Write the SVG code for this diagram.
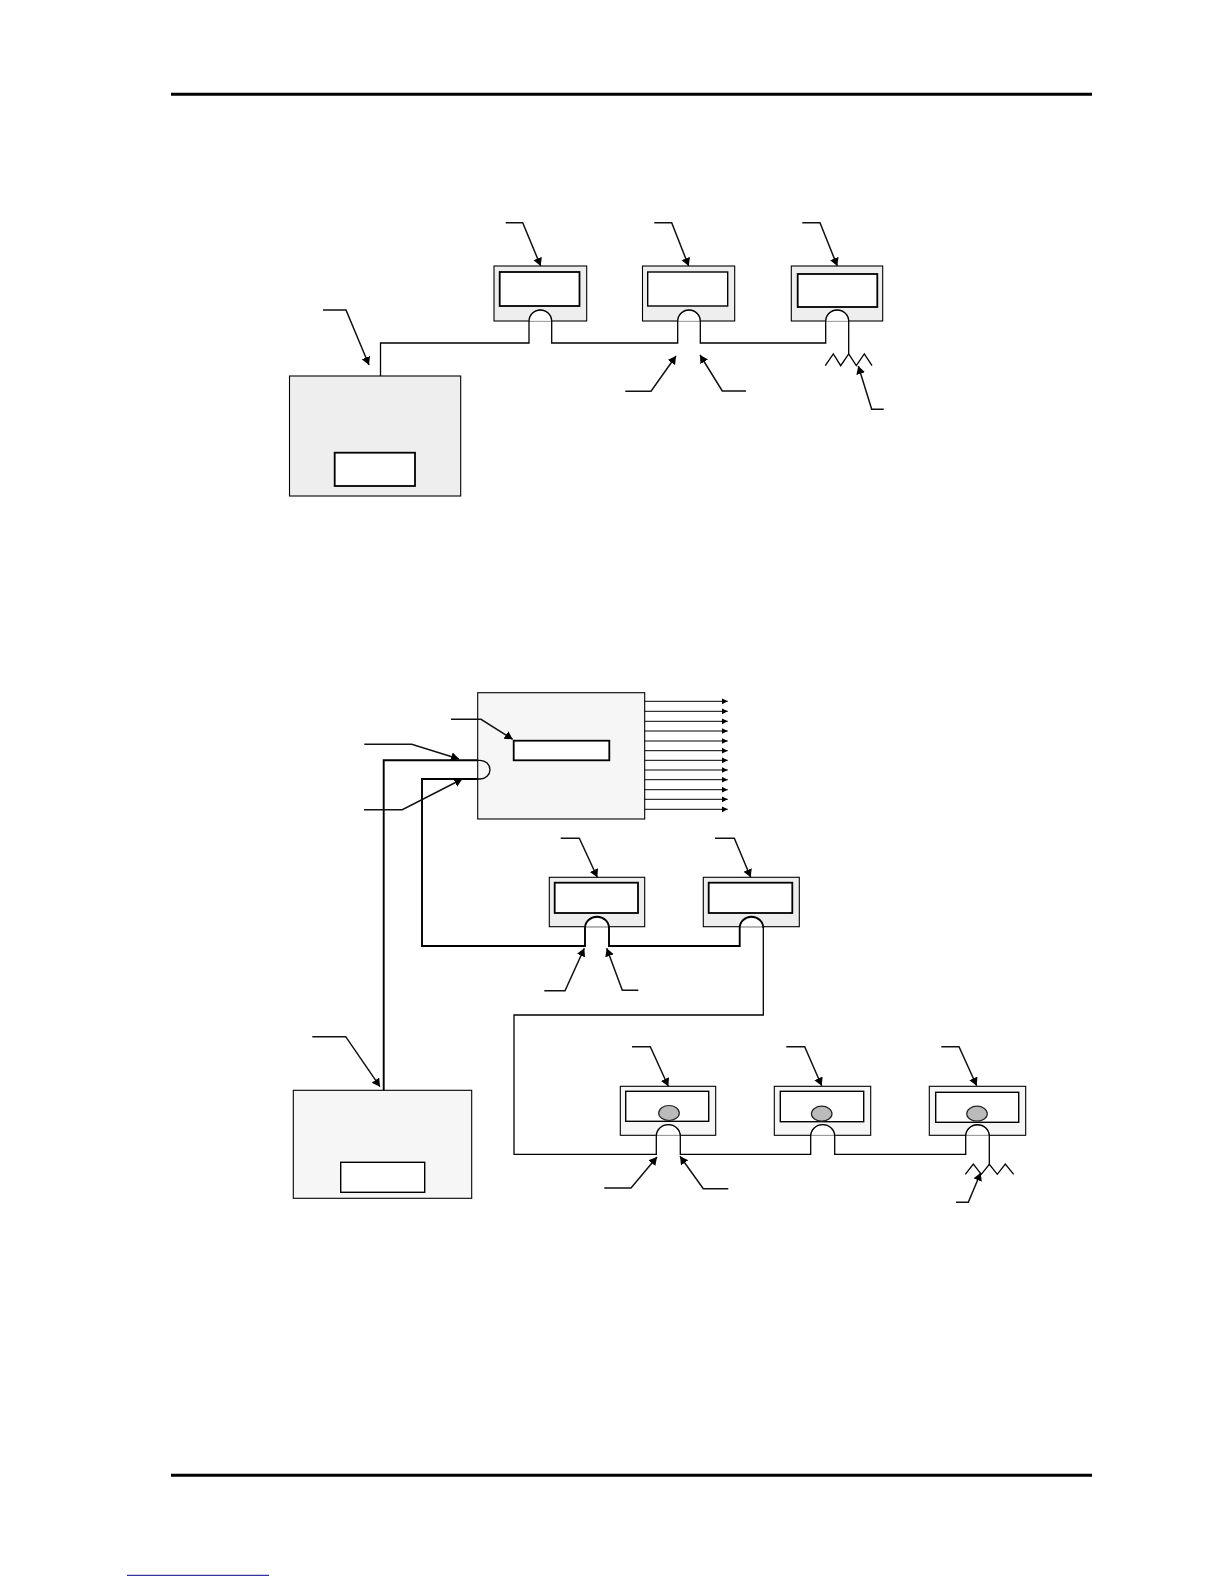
<svg xmlns="http://www.w3.org/2000/svg" width="1224" height="1584" viewBox="0 0 1224 1584">
<style>
.rule{stroke:#000;stroke-width:3;fill:none}
.box{stroke:#000;stroke-width:1.1}
.a{fill:#eee}.b{fill:#f6f6f6}
.win{fill:#fff;stroke:#000;stroke-width:1.8}
.win2{fill:#fff;stroke:#000;stroke-width:1.4}
.dot{fill:#bbb;stroke:#222;stroke-width:1.2}
.arch{fill:#fff;stroke:#aaa;stroke-width:1}
.wire{fill:none;stroke:#000;stroke-width:1.3;stroke-linejoin:miter}
.heavy{stroke-width:1.9}
.lead{fill:none;stroke:#111;stroke-width:1.5;marker-end:url(#tip)}
.out{fill:none;stroke:#000;stroke-width:1;marker-end:url(#tip2)}
</style>
<defs>
<marker id="tip" markerUnits="userSpaceOnUse" markerWidth="10" markerHeight="10" refX="8" refY="4.5" orient="auto"><path d="M0 0L8 4.5L0 9Z" fill="#000"/></marker>
<marker id="tip2" markerUnits="userSpaceOnUse" markerWidth="8" markerHeight="8" refX="6" refY="3" orient="auto"><path d="M0 0L6 3L0 6Z" fill="#000"/></marker>
</defs>
<path class="rule" d="M171 94.3H1092M171 1475.3H1092"/>
<path d="M127 1575.3H269" stroke="#00008b" stroke-width="1" fill="none"/>

<g id="controller-1"><rect class="box a" x="289.5" y="376" width="171.2" height="120"/><rect class="win" x="334.7" y="452.7" width="80.3" height="33.3"/></g>
<g id="device-1"><rect class="box a" x="494" y="266" width="92.7" height="55"/><rect class="win" x="499.7" y="272" width="79.8" height="34"/></g>
<g id="device-2"><rect class="box a" x="642.5" y="266" width="92.2" height="55"/><rect class="win2" x="647.7" y="272" width="80" height="34"/></g>
<g id="device-3"><rect class="box a" x="791.3" y="266" width="91.4" height="55"/><rect class="win" x="797.7" y="274" width="79.6" height="33"/></g>

<g id="panel"><rect class="box b" x="477.7" y="692.7" width="167" height="126.3"/><rect class="win" x="513.7" y="740.7" width="95.6" height="19.6"/></g>
<g id="controller-2"><rect class="box b" x="293.3" y="1090.3" width="178.4" height="108"/><rect class="win2" x="340.7" y="1162.3" width="84" height="30"/></g>
<g id="device-4"><rect class="box a" x="549.3" y="877.3" width="95.4" height="49.4"/><rect class="win" x="554.7" y="882.7" width="83.3" height="30.3"/></g>
<g id="device-5"><rect class="box a" x="703.3" y="877.3" width="96" height="49.4"/><rect class="win" x="708.7" y="882.7" width="83.6" height="30.3"/></g>
<g id="device-6"><rect class="box b" x="620.3" y="1086.3" width="95.4" height="49"/><rect class="win2" x="625.7" y="1091.3" width="83" height="30"/><ellipse class="dot" cx="669" cy="1113" rx="10.3" ry="7.5"/></g>
<g id="device-7"><rect class="box b" x="774.3" y="1086.3" width="96.4" height="49"/><rect class="win2" x="780.3" y="1091.3" width="83.4" height="30.4"/><ellipse class="dot" cx="821.7" cy="1113.7" rx="10.3" ry="7.5"/></g>
<g id="device-8"><rect class="box b" x="929.3" y="1086.3" width="96.4" height="49"/><rect class="win2" x="935.7" y="1092.3" width="83" height="30"/><ellipse class="dot" cx="977" cy="1113.7" rx="10.3" ry="7.5"/></g>

<g id="connectors">
<path class="arch" d="M529 321.3A11.35 11.35 0 0 1 551.7 321.3Z"/>
<path class="arch" d="M677.7 321.3A11.3 11.3 0 0 1 700.3 321.3Z"/>
<path class="arch" d="M825.7 321.3A11.5 11.5 0 0 1 848.7 321.3Z"/>
<path class="arch" d="M585 926.7V928A12 11.3 0 0 1 609 928V926.7Z"/>
<path class="arch" d="M739.7 926.7V928A11.8 11.3 0 0 1 763.3 928V926.7Z"/>
<path class="arch" d="M656.3 1135.3V1136A12 11.3 0 0 1 680.3 1136V1135.3Z"/>
<path class="arch" d="M810.7 1135.3V1136A12 11.3 0 0 1 834.7 1136V1135.3Z"/>
<path class="arch" d="M965.7 1135.3V1136A11.8 11.3 0 0 1 989.3 1136V1135.3Z"/>

<path class="wire" d="M380.5 376V343H529V321.3A11.35 11.3 0 0 1 551.7 321.3V343H677.7V321.3A11.3 11.3 0 0 1 700.3 321.3V343H825.7V321.3A11.5 11.3 0 0 1 848.7 321.3V354"/>
<path class="wire" d="M825.3 365.7L833.3 354L840.7 365.7L848.7 354L856.3 365.7L864.3 354L872 365.7"/>
<path class="wire heavy" d="M383.7 1090.3V760.3H477.7"/>
<path class="wire" d="M477.7 760.3H480A10 9.35 0 0 1 480 779H477.7"/>
<path class="wire heavy" d="M477.7 779H422V946H585V928A12 11.3 0 0 1 609 928V946H739.7V928A11.8 11.3 0 0 1 763.3 928"/>
<path class="wire" d="M763.3 928V1015H514V1154.3H656.3V1136A12 11.3 0 0 1 680.3 1136V1154.3H810.7V1136A12 11.3 0 0 1 834.7 1136V1154.3H965.7V1136A11.8 11.3 0 0 1 989.3 1136V1164.3"/>
<path class="wire" d="M965.3 1174.3L973.3 1164L981.3 1174.3L989.3 1164.3L997.3 1174.3L1005.3 1164L1013.7 1174.3"/>

<path class="lead" d="M505.7 222.7H522.7L540.7 266"/>
<path class="lead" d="M654.3 222.7H671.7L688.7 266"/>
<path class="lead" d="M802.3 222.7H820L837.3 266"/>
<path class="lead" d="M323 310H346L369 365"/>
<path class="lead" d="M625.3 391.3H651L676 356"/>
<path class="lead" d="M746 391H722.3L700 355"/>
<path class="lead" d="M883.7 409.3H871.7L858.3 366"/>
<path class="lead" d="M451 719.3H481L512.7 739.3"/>
<path class="lead" d="M364.3 744.3H411.7L459 759"/>
<path class="lead" d="M364 809.7H402.3L462.3 779"/>
<path class="lead" d="M560.7 838.3H579.3L597.3 877.3"/>
<path class="lead" d="M715 838.3H734.3L750.7 877.3"/>
<path class="lead" d="M544.3 990.7H565L584.3 948.3"/>
<path class="lead" d="M638.3 990.3H622.3L606.7 948.3"/>
<path class="lead" d="M312.3 1036.7H345.7L380 1086.7"/>
<path class="lead" d="M632 1046.7H650.3L668.3 1086.3"/>
<path class="lead" d="M786.3 1046.7H804.7L821.7 1085.7"/>
<path class="lead" d="M941.3 1046.7H959L976.7 1085.7"/>
<path class="lead" d="M604.3 1188H631L657 1157"/>
<path class="lead" d="M728.3 1188.7H703.3L680 1156.3"/>
<path class="lead" d="M956 1202.3H968.3L980.7 1172.7"/>

<path class="out" d="M644.7 701.3H727.7"/><path class="out" d="M644.7 711.3H727.7"/><path class="out" d="M644.7 721.3H727.7"/><path class="out" d="M644.7 731H727.7"/><path class="out" d="M644.7 741H727.7"/><path class="out" d="M644.7 750.7H727.7"/><path class="out" d="M644.7 760.3H727.7"/><path class="out" d="M644.7 770H727.7"/><path class="out" d="M644.7 779.7H727.7"/><path class="out" d="M644.7 789.7H727.7"/><path class="out" d="M644.7 799.3H727.7"/><path class="out" d="M644.7 809.3H727.7"/>
</g>
</svg>
